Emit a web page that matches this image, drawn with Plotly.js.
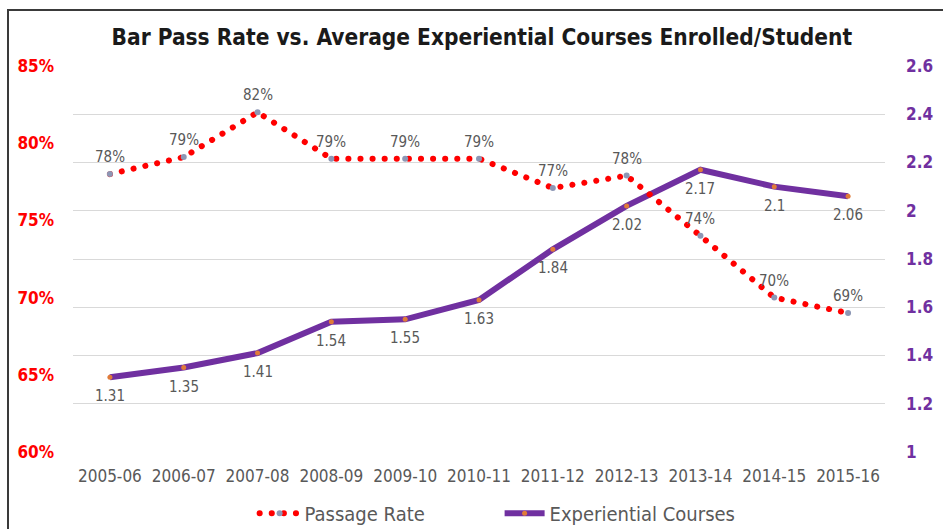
<!DOCTYPE html>
<html><head><meta charset="utf-8">
<script src="https://cdn.plot.ly/plotly-3.0.1.min.js"></script>
<style>
html,body{margin:0;padding:0;background:#fff;}
#wrap{position:relative;width:943px;height:529px;}
#chart{width:943px;height:529px;}
#frame{position:absolute;left:7px;top:9px;width:940px;height:530px;border-left:2px solid #3a3a3a;border-top:2px solid #3a3a3a;pointer-events:none;}
.passage .js-line{stroke-linecap:round;}
</style>
</head><body>
<div id="wrap"><div id="chart"></div><div id="frame"></div></div>
<script>
const years = ["2005-06","2006-07","2007-08","2008-09","2009-10","2010-11","2011-12","2012-13","2013-14","2014-15","2015-16"];
const passageRate = [78.0, 79.1, 82.0, 79.0, 79.0, 79.0, 77.1, 77.9, 74.0, 70.0, 69.0];
const experientialCourses = [1.31, 1.35, 1.41, 1.54, 1.55, 1.63, 1.84, 2.02, 2.17, 2.1, 2.06];
const leftTicks = [60, 65, 70, 75, 80, 85];
const leftTickText = ["60%","65%","70%","75%","80%","85%"];
const rightTicks = [1, 1.2, 1.4, 1.6, 1.8, 2, 2.2, 2.4, 2.6];
const rightTickText = ["1","1.2","1.4","1.6","1.8","2","2.2","2.4","2.6"];

const FONT = "'DejaVu Sans Condensed', 'DejaVu Sans', sans-serif";
const GRAY = "#595959";

const traces = [
  {
    x: years, y: experientialCourses, name: "Experiential Courses", yaxis: "y",
    type: "scatter", mode: "lines+markers",
    line: {color: "#7030A0", width: 6},
    marker: {color: "#E07B39", size: 5},
    legendrank: 2, cliponaxis: false
  },
  {
    x: years, y: passageRate, name: "Passage Rate", yaxis: "y2",
    type: "scatter", mode: "lines+markers",
    line: {color: "#FF0000", width: 6, dash: "0.1px,12px"},
    marker: {color: "#8D97B5", size: 6},
    legendrank: 1, cliponaxis: false
  }
];

const annotations = [];
years.forEach(function(yr, i){
  annotations.push({
    x: yr, y: passageRate[i], xref: "x", yref: "y2",
    text: Math.round(passageRate[i]) + "%", showarrow: false,
    yshift: 17, font: {family: FONT, size: 15, color: GRAY}
  });
  annotations.push({
    x: yr, y: experientialCourses[i], xref: "x", yref: "y",
    text: String(experientialCourses[i]), showarrow: false,
    yshift: -19, font: {family: FONT, size: 15, color: GRAY}
  });
});

const layout = {
  width: 943, height: 529,
  margin: {l: 73, r: 58, t: 66, b: 77, autoexpand: false},
  paper_bgcolor: "#fff", plot_bgcolor: "#fff",
  font: {family: FONT, color: GRAY},
  title: {
    text: "<b>Bar Pass Rate vs. Average Experiential Courses Enrolled/Student</b>",
    font: {family: FONT, size: 22.5, color: "#1a1a1a"},
    x: 0.511, xanchor: "center", xref: "container",
    y: 0.93, yanchor: "middle", yref: "container"
  },
  xaxis: {
    type: "category", showgrid: false, zeroline: false, showline: false, automargin: false,
    ticks: "", tickfont: {family: FONT, size: 17, color: GRAY},
    ticklabelstandoff: 12, range: [-0.5, 10.5]
  },
  yaxis: {
    side: "right", range: [1, 2.6], tickvals: rightTicks, ticktext: rightTickText, automargin: false,
    showgrid: true, gridcolor: "#D9D9D9", gridwidth: 1, zeroline: false, showline: false,
    tickfont: {family: FONT, size: 17, color: "#7030A0", weight: "bold"}, ticklabelstandoff: 20
  },
  yaxis2: {
    side: "left", overlaying: "y", range: [60, 85], tickvals: leftTicks, ticktext: leftTickText, automargin: false,
    showgrid: false, zeroline: false, showline: false,
    tickfont: {family: FONT, size: 17, color: "#FF0000", weight: "bold"}, ticklabelstandoff: 18
  },
  annotations: annotations,
  showlegend: true,
  legend: {
    orientation: "h", x: 0.27, xanchor: "left", xref: "container",
    y: 0.03, yanchor: "middle", yref: "container",
    font: {family: FONT, size: 20, color: GRAY}, itemwidth: 40, entrywidth: 190
  }
};

Plotly.newPlot("chart", traces, layout, {displayModeBar: false, staticPlot: true}).then(function(){
  const tr = document.querySelectorAll(".scatterlayer .trace");
  tr.forEach(function(t){
    const p = t.querySelector(".js-line");
    if (p && (p.style.stroke || "").indexOf("255, 0, 0") >= 0) t.classList.add("passage");
  });
  document.querySelectorAll(".legend .traces").forEach(function(t){
    const p = t.querySelector(".js-line");
    if (p && (p.style.stroke || "").indexOf("255, 0, 0") >= 0) p.style.strokeLinecap = "round";
  });
});
</script>
</body></html>
